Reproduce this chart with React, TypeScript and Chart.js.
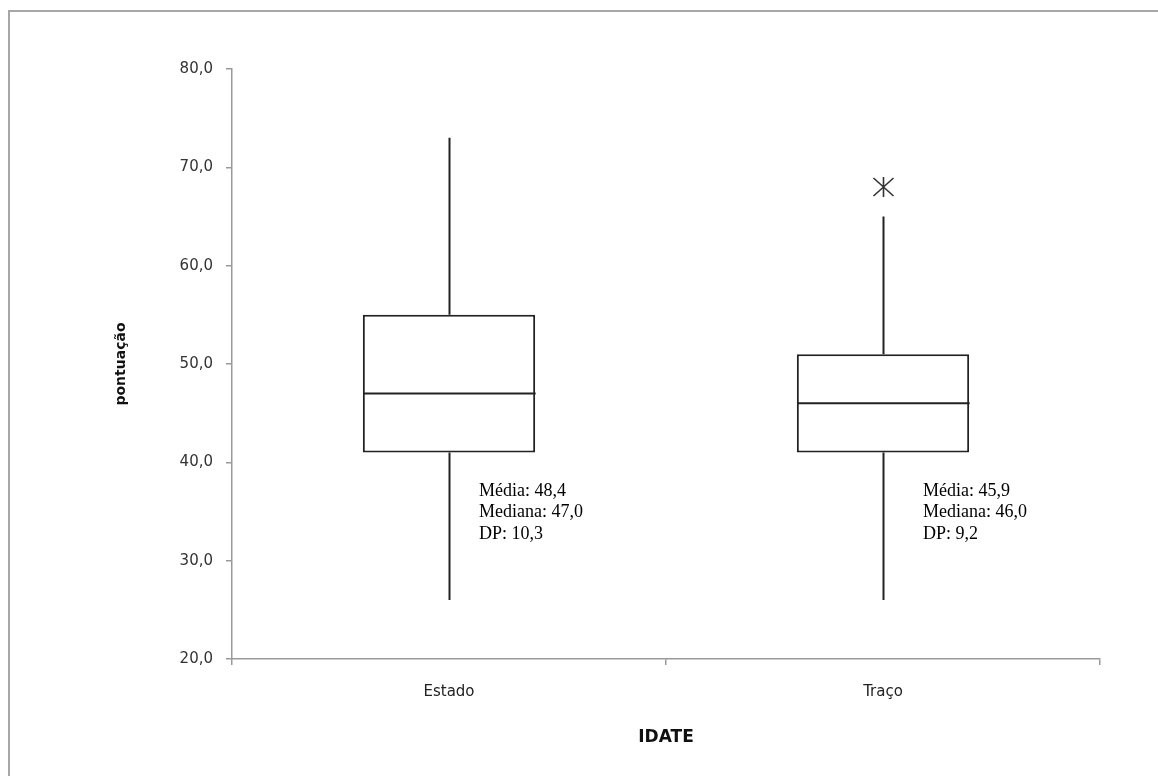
import React, { useEffect, useRef } from "react";
import { Chart, registerables } from "chart.js";

Chart.register(...registerables);

// ---- data ----
const categories = ["Estado", "Traço"];
const q1Values = [41, 41];
const q3Values = [55, 51];
const medianValues = [47, 46];
const whiskerLow = [26, 26];
const whiskerHigh = [73, 65];
const outlierValues: number[][] = [[], [68]];
const yTickValues = [20, 30, 40, 50, 60, 70, 80];
const statLines = [
  ["Média: 48,4", "Mediana: 47,0", "DP: 10,3"],
  ["Média: 45,9", "Mediana: 46,0", "DP: 9,2"],
];
const yAxisTitle = "pontuação";
const xAxisTitle = "IDATE";

const fmt = (v: number) => v.toFixed(1).replace(".", ",");

const boxPlugin = {
  id: "boxExtras",
  afterDatasetsDraw(chart: any) {
    const { ctx } = chart;
    const xs = chart.scales.x;
    const ys = chart.scales.y;
    const meta = chart.getDatasetMeta(0);
    ctx.save();
    ctx.strokeStyle = "#222";
    ctx.lineWidth = 2;
    categories.forEach((_, i) => {
      const bar = meta.data[i];
      const cx = Math.round(xs.getPixelForValue(i)) + 0.5;
      const half = bar.width / 2;
      // median
      const my = ys.getPixelForValue(medianValues[i]);
      ctx.beginPath();
      ctx.moveTo(cx - half, my);
      ctx.lineTo(cx + half, my);
      ctx.stroke();
      // whiskers
      ctx.beginPath();
      ctx.moveTo(cx, ys.getPixelForValue(q3Values[i]));
      ctx.lineTo(cx, ys.getPixelForValue(whiskerHigh[i]));
      ctx.moveTo(cx, ys.getPixelForValue(q1Values[i]));
      ctx.lineTo(cx, ys.getPixelForValue(whiskerLow[i]));
      ctx.stroke();
      // outliers (asterisk)
      outlierValues[i].forEach((v) => {
        const oy = ys.getPixelForValue(v);
        ctx.save();
        ctx.strokeStyle = "#333";
        ctx.lineWidth = 1.6;
        ctx.beginPath();
        ctx.moveTo(cx, oy - 10);
        ctx.lineTo(cx, oy + 10);
        ctx.moveTo(cx - 10, oy - 9);
        ctx.lineTo(cx + 10, oy + 9);
        ctx.moveTo(cx - 10, oy + 9);
        ctx.lineTo(cx + 10, oy - 9);
        ctx.stroke();
        ctx.restore();
      });
    });
    // statistics text
    const offsets = [30, 40];
    ctx.fillStyle = "#000";
    ctx.font = "18px 'Liberation Serif', 'Times New Roman', serif";
    ctx.textBaseline = "middle";
    ctx.textAlign = "left";
    categories.forEach((_, i) => {
      const tx = xs.getPixelForValue(i) + offsets[i];
      const ty = ys.getPixelForValue(37.1);
      statLines[i].forEach((line, k) => {
        ctx.fillText(line, tx, ty + k * 21.7);
      });
    });
    ctx.restore();
  },
};

export default function App() {
  const ref = useRef<HTMLCanvasElement | null>(null);
  useEffect(() => {
    if (!ref.current) return;
    const chart = new Chart(ref.current, {
      type: "bar",
      data: {
        labels: categories,
        datasets: [
          {
            data: categories.map((_, i) => [q1Values[i], q3Values[i]]) as any,
            backgroundColor: "#ffffff",
            borderColor: "#222",
            borderWidth: 2,
            borderSkipped: false,
            categoryPercentage: 1,
            barPercentage: 0.397,
          },
        ],
      },
      options: {
        responsive: false,
        animation: false,
        devicePixelRatio: 1,
        layout: { padding: { left: 0, top: 69, right: 58, bottom: 0 } },
        plugins: { legend: { display: false }, tooltip: { enabled: false } },
        scales: {
          x: {
            afterFit: (s: any) => {
              s.height = 117;
            },
            grid: {
              drawOnChartArea: false,
              drawTicks: true,
              tickLength: 6,
              color: "#999",
              lineWidth: 1.5,
              offset: true,
            },
            border: { color: "#999", width: 1.5 },
            ticks: {
              padding: 18,
              color: "#222",
              font: { family: "'DejaVu Sans'", size: 15 },
            },
            title: {
              display: true,
              text: xAxisTitle,
              color: "#111",
              font: { family: "'DejaVu Sans'", size: 17, weight: "bold" },
              padding: { top: 0, bottom: 28 },
            },
          },
          y: {
            min: 20,
            max: 80,
            afterFit: (s: any) => {
              s.width = 232;
            },
            afterBuildTicks: (s: any) => {
              s.ticks = yTickValues.map((v) => ({ value: v }));
            },
            grid: {
              drawOnChartArea: false,
              drawTicks: true,
              tickLength: 6,
              color: "#999",
              lineWidth: 1.5,
            },
            border: { color: "#999", width: 1.5 },
            ticks: {
              padding: 13,
              color: "#333",
              font: { family: "'DejaVu Sans'", size: 15 },
              callback: (v: any) => fmt(Number(v)),
            },
            title: {
              display: true,
              text: yAxisTitle,
              color: "#111",
              font: { family: "'DejaVu Sans'", size: 14, weight: "bold" },
              padding: { top: 113, bottom: 0 },
            },
          },
        },
      },
      plugins: [boxPlugin],
    });
    return () => chart.destroy();
  }, []);

  return (
    <div style={{ position: "fixed", left: 0, top: 0, width: 1158, height: 776, overflow: "hidden", background: "#fff" }}>
      <div
        style={{
          position: "absolute",
          left: 8,
          top: 10,
          width: 1300,
          height: 900,
          borderLeft: "2px solid #a6a6a6",
          borderTop: "2px solid #a6a6a6",
        }}
      />
      <canvas ref={ref} width={1158} height={776} style={{ position: "absolute", left: 0, top: 0 }} />
    </div>
  );
}
